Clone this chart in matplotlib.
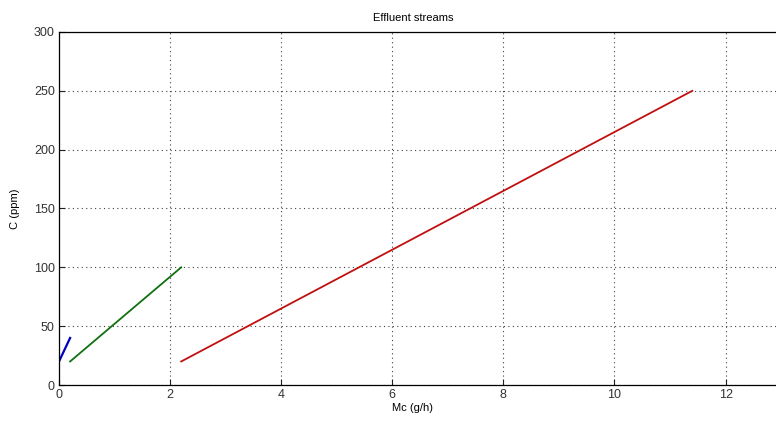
import matplotlib
matplotlib.use("Agg")
import matplotlib.pyplot as plt

plt.rcParams['font.family'] = ['Liberation Sans', 'DejaVu Sans']

# Effluent streams: mass load (g/h) vs concentration (ppm)
stream1_mc = [0.0, 0.2]
stream1_c = [20, 40]
stream2_mc = [0.2, 2.2]
stream2_c = [20, 100]
stream3_mc = [2.2, 11.4]
stream3_c = [20, 250]

x_ticks = [0, 2, 4, 6, 8, 10, 12]
y_ticks = [0, 50, 100, 150, 200, 250, 300]

fig = plt.figure(figsize=(7.76, 4.23), dpi=100)
W, H = 776, 423
left, top, bottom = 59, 32, 385
px_per_unit = 55.55
right = left + 14 * px_per_unit
ax = fig.add_axes([left / W, 1 - bottom / H, (right - left) / W, (bottom - top) / H])

ax.plot(stream1_mc, stream1_c, color='#0000c0', lw=1.6)
ax.plot(stream2_mc, stream2_c, color='#107010', lw=1.3)
ax.plot(stream3_mc, stream3_c, color='#c01010', lw=1.3)

ax.set_xlim(0, 14)
ax.set_ylim(0, 300)
ax.set_xticks(x_ticks)
ax.set_yticks(y_ticks)
ax.grid(True, color='#404040', linestyle=(0, (1, 3)), linewidth=0.8)
ax.tick_params(direction='in', length=4, labelsize=9, colors='#202020', pad=3)
ax.tick_params(labelcolor='#333333')
for s in ['left', 'bottom', 'top']:
    ax.spines[s].set_linewidth(0.9)
ax.spines['right'].set_visible(False)

# Titles centred over the visible plot area
cx = 413 / W
fig.text(cx, 1 - 18 / H, 'Effluent streams', ha='center', va='center', fontsize=8)
fig.text(cx, 1 - 408 / H, 'Mc (g/h)', ha='center', va='center', fontsize=8)
ax.set_ylabel('C (ppm)', fontsize=8, labelpad=10)

fig.savefig('out.png', dpi=100)
